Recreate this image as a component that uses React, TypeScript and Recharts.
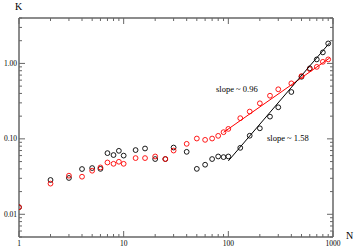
import { ScatterChart, Scatter, XAxis, YAxis } from "recharts";

const nValues = [
  1, 2, 3, 4, 5, 6, 7, 8, 9, 10, 13, 16, 20, 25, 30, 40, 50, 60, 70, 80, 90, 100,
  130, 160, 200, 250, 300, 400, 500, 600, 700, 800, 900,
];
const blackK = [
  0.0124, 0.0285, 0.0303, 0.0398, 0.041, 0.04, 0.0647, 0.061, 0.0694, 0.06, 0.071,
  0.0745, 0.054, 0.054, 0.0767, 0.0673, 0.04, 0.0454, 0.054, 0.0584, 0.0573, 0.0584,
  0.076, 0.11, 0.138, 0.197, 0.262, 0.418, 0.665, 0.86, 1.13, 1.4, 1.84,
];
const redK = [
  0.0124, 0.0255, 0.0325, 0.0315, 0.0378, 0.0418, 0.0486, 0.0467, 0.0497, 0.0467,
  0.0556, 0.0556, 0.0584, 0.054, 0.07, 0.0859, 0.101, 0.097, 0.101, 0.1096, 0.1226,
  0.1355, 0.188, 0.23, 0.296, 0.373, 0.454, 0.544, 0.679, 0.84, 0.9, 1.05, 1.13,
];

// fitted power laws, end points only
const fitRedN = [90, 930];
const fitRedK = [0.122, 1.18];
const fitBlackN = [100, 930];
const fitBlackK = [0.051, 1.88];

const xDecades = [1, 10, 100];
const yDecades = [0.001, 0.01, 0.1, 1];
const minor = [1, 2, 3, 4, 5, 6, 7, 8, 9];
const xTicks = [...xDecades.flatMap((d) => minor.map((m) => d * m)), 1000];
const yTicks = yDecades
  .flatMap((d) => minor.map((m) => +(d * m).toPrecision(3)))
  .filter((v) => v >= 0.005 && v <= 4);

const blackPts = nValues.map((n, i) => ({ n, k: blackK[i] }));
const redPts = nValues.map((n, i) => ({ n, k: redK[i] }));
const fitRed = fitRedN.map((n, i) => ({ n, k: fitRedK[i] }));
const fitBlack = fitBlackN.map((n, i) => ({ n, k: fitBlackK[i] }));

const AXIS = "#666";
const FONT = "'Liberation Serif', 'Times New Roman', serif";

const isMajor = (v: number) =>
  Math.abs(Math.log10(v) - Math.round(Math.log10(v))) < 1e-6;

function makeTick(side: "bottom" | "top" | "left" | "right") {
  return (props: any) => {
    const { x, y, payload } = props;
    const v = payload.value as number;
    const len = isMajor(v) ? 6 : 3;
    let line;
    if (side === "bottom") line = <line x1={x} x2={x} y1={y} y2={y - len} />;
    else if (side === "top") line = <line x1={x} x2={x} y1={y} y2={y + len} />;
    else if (side === "left") line = <line x1={x} x2={x + len} y1={y} y2={y} />;
    else line = <line x1={x} x2={x - len} y1={y} y2={y} />;
    return (
      <g stroke={AXIS} strokeWidth={1}>
        {line}
        {isMajor(v) && side === "bottom" && (
          <text x={x} y={y + 9} textAnchor="middle" fontSize={7.5} fontFamily={FONT} fill="#000" stroke="none">
            {String(v)}
          </text>
        )}
        {isMajor(v) && side === "left" && (
          <text x={x - 2} y={y + 2.5} textAnchor="end" fontSize={7.5} fontFamily={FONT} fill="#000" stroke="none">
            {v.toFixed(2)}
          </text>
        )}
      </g>
    );
  };
}

const openCircle = (color: string) => (p: any) =>
  <circle cx={p.cx} cy={p.cy} r={2.4} fill="none" stroke={color} strokeWidth={0.9} />;

export default function App() {
  return (
    <div style={{ position: "absolute", left: 0, top: 0, background: "#fff" }}>
      <ScatterChart width={354} height={248} margin={{ top: 0, right: 0, bottom: 0, left: 0 }}>
        <XAxis
          xAxisId="b"
          dataKey="n"
          type="number"
          scale="log"
          domain={[1, 1000]}
          allowDataOverflow
          ticks={xTicks}
          interval={0}
          height={11}
          tickSize={0}
          tickMargin={0}
          tickLine={false}
          axisLine={{ stroke: AXIS, strokeWidth: 1.5 }}
          tick={makeTick("bottom")}
        />
        <XAxis
          xAxisId="t"
          orientation="top"
          dataKey="n"
          type="number"
          scale="log"
          domain={[1, 1000]}
          allowDataOverflow
          ticks={xTicks}
          interval={0}
          height={18}
          tickSize={0}
          tickMargin={0}
          tickLine={false}
          axisLine={{ stroke: AXIS, strokeWidth: 1.5 }}
          tick={makeTick("top")}
        />
        <YAxis
          yAxisId="l"
          dataKey="k"
          type="number"
          scale="log"
          domain={[0.005, 4]}
          allowDataOverflow
          ticks={yTicks}
          interval={0}
          width={19}
          tickSize={0}
          tickMargin={0}
          tickLine={false}
          axisLine={{ stroke: AXIS, strokeWidth: 1.5 }}
          tick={makeTick("left")}
        />
        <YAxis
          yAxisId="r"
          orientation="right"
          dataKey="k"
          type="number"
          scale="log"
          domain={[0.005, 4]}
          allowDataOverflow
          ticks={yTicks}
          interval={0}
          width={21}
          tickSize={0}
          tickMargin={0}
          tickLine={false}
          axisLine={{ stroke: AXIS, strokeWidth: 1.5 }}
          tick={makeTick("right")}
        />
        <Scatter xAxisId="b" yAxisId="l" data={blackPts} shape={openCircle("#000")} isAnimationActive={false} />
        <Scatter xAxisId="b" yAxisId="l" data={redPts} shape={openCircle("#ff0000")} isAnimationActive={false} />
        <Scatter
          xAxisId="b"
          yAxisId="l"
          data={fitRed}
          line={{ stroke: "#ff0000", strokeWidth: 1 }}
          shape={() => null}
          isAnimationActive={false}
        />
        <Scatter
          xAxisId="b"
          yAxisId="l"
          data={fitBlack}
          line={{ stroke: "#000", strokeWidth: 1 }}
          shape={() => null}
          isAnimationActive={false}
        />
        <text x={15} y={10} fontSize={10} fontFamily={FONT}>K</text>
        <text x={346} y={239} fontSize={10} fontFamily={FONT}>N</text>
        <text x={216} y={92} fontSize={8.5} fontFamily={FONT}>slope ~ 0.96</text>
        <text x={267} y={141} fontSize={8.5} fontFamily={FONT}>slope ~ 1.58</text>
      </ScatterChart>
    </div>
  );
}
